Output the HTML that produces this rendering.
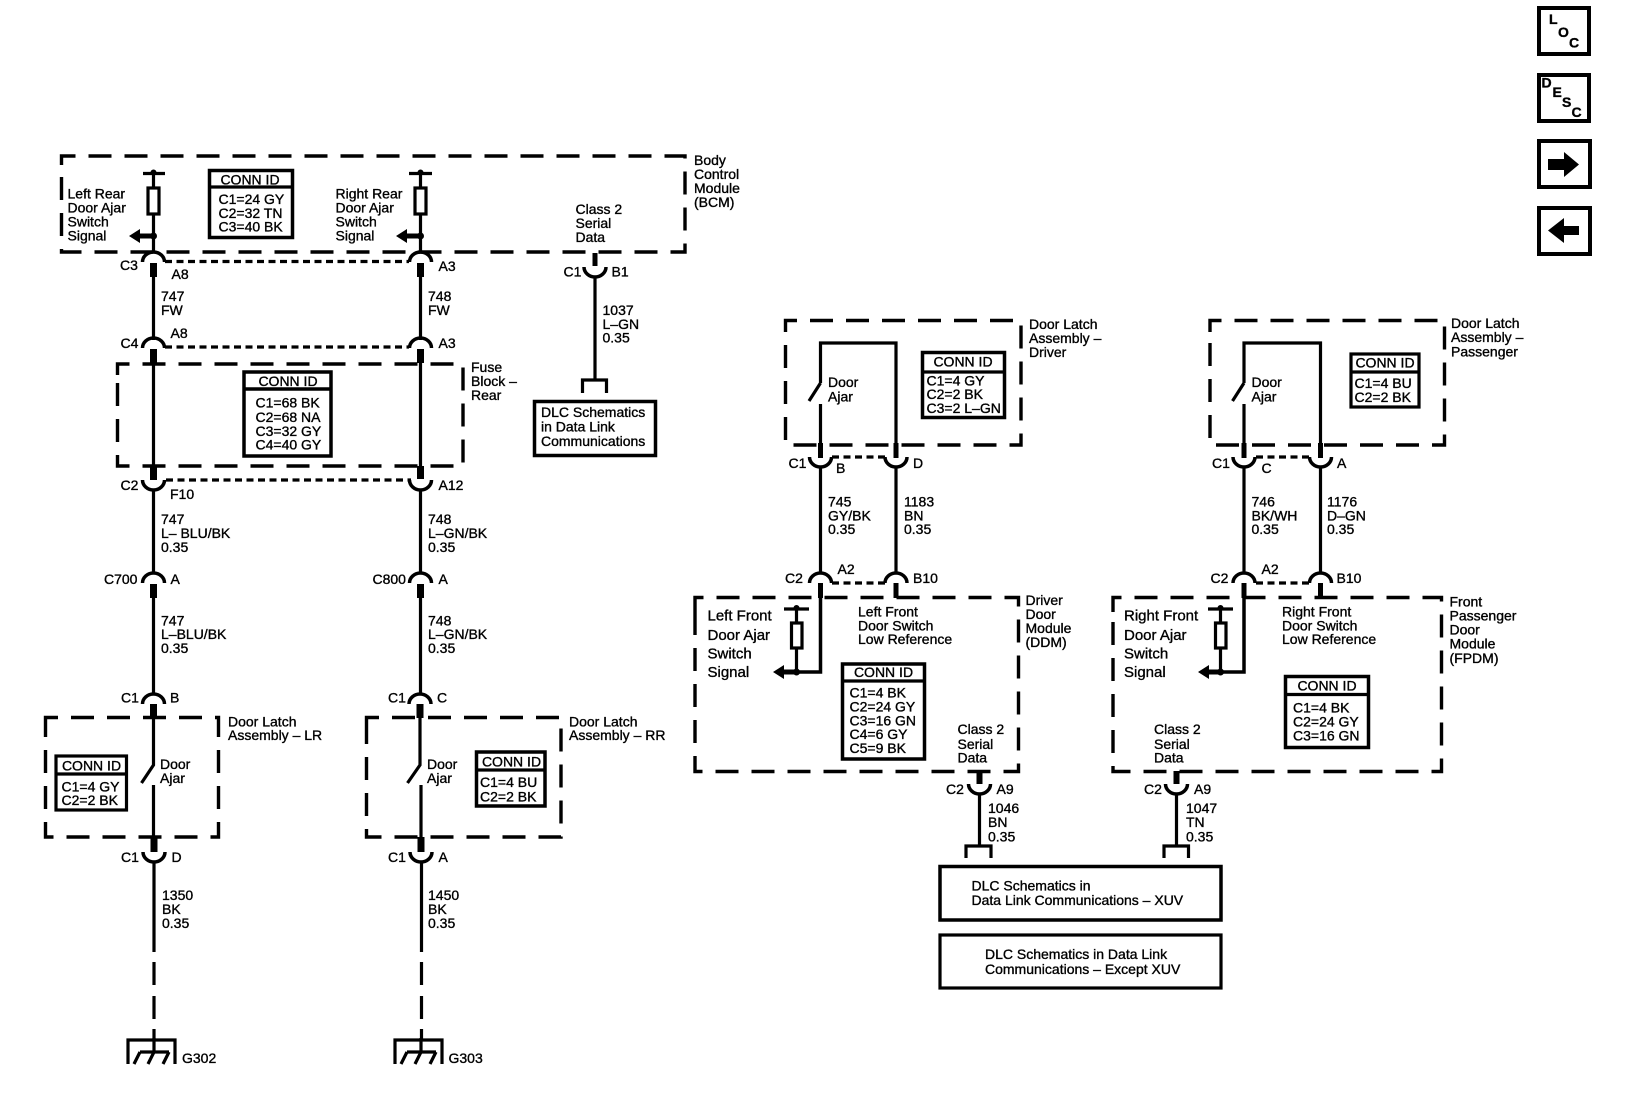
<!DOCTYPE html>
<html><head><meta charset="utf-8"><style>
html,body{margin:0;padding:0;background:#fff}
svg{display:block}
text{font-family:"Liberation Sans",Arial,sans-serif;font-size:14px;fill:#000;stroke:#000;stroke-width:.35}
.c{text-anchor:middle}
.l{font-size:15px}
.b{fill:none;stroke:#000;stroke-width:3.4;stroke-dasharray:23 13}
.r{fill:#fff;stroke:#000;stroke-width:3.5}
.w{fill:none;stroke:#000;stroke-width:3.2}
.s{fill:none;stroke:#000;stroke-width:7}
.d{fill:none;stroke:#000;stroke-width:3.2;stroke-dasharray:7 4.5}
.i text{font-weight:bold;font-size:14px}
</style></head><body>
<svg width="1632" height="1094" viewBox="0 0 1632 1094" xmlns="http://www.w3.org/2000/svg">
<defs>
<path id="n" d="M-11 10A11 10 0 0 1 11 10" fill="none" stroke="#000" stroke-width="3.5"/>
<path id="u" d="M-11 0A11 10 0 0 0 11 0" fill="none" stroke="#000" stroke-width="3.5"/>
<g id="gnd" fill="none" stroke="#000" stroke-width="3.2">
<path d="M-24 24V0H23V24"/><path d="M2 -2V12"/><path d="M-12 12H17"/><path d="M-12 12L-18 24M2 12L-4 24M17 12L11 24"/>
</g>
<path id="arl" d="M0 0L11 -7V-2.500H24V2.500H11V7Z" fill="#000"/>
</defs>

<!-- nav icons -->
<g class="i">
<rect x="1539" y="8" width="50" height="46" fill="#fff" stroke="#000" stroke-width="4"/>
<text x="1549" y="24">L</text><text x="1558" y="37">O</text><text x="1569" y="47.500">C</text>
<rect x="1539" y="75" width="50" height="46" fill="#fff" stroke="#000" stroke-width="4"/>
<text x="1541.500" y="87.500">D</text><text x="1552.500" y="97">E</text><text x="1562" y="107">S</text><text x="1571.500" y="117">C</text>
<rect x="1539" y="141" width="51" height="46" fill="#fff" stroke="#000" stroke-width="4"/>
<path d="M1548 159H1564V152L1579 164.500L1564 177V170H1548Z" fill="#000"/>
<rect x="1539" y="208" width="51" height="46" fill="#fff" stroke="#000" stroke-width="4"/>
<path d="M1579 226H1564V218L1548 230.500L1564 243V235H1579Z" fill="#000"/>
</g>

<!-- BCM -->
<path class="b" d="M61.500 165V156H685V252H61.500V165"/>
<path class="w" d="M143 173.500H165M153.500 173.500V252M420.500 173.500V252M409 173.500H432"/>
<circle cx="153.500" cy="172.500" r="3"/><circle cx="420.500" cy="172.500" r="3"/>
<rect x="148" y="188" width="11" height="26" class="r" style="stroke-width:3.2"/>
<rect x="415" y="188" width="11" height="26" class="r" style="stroke-width:3.2"/>
<use href="#arl" x="129" y="236"/><path class="w" d="M140 236H153"/><circle cx="153.500" cy="236" r="3.500"/>
<use href="#arl" x="396" y="236"/><path class="w" d="M407 236H420"/><circle cx="420.500" cy="236" r="3.500"/>
<rect x="209.500" y="170.500" width="83" height="67" class="r"/><path class="w" d="M209 187H293"/>
<text class="c" x="250" y="184.500">CONN ID</text>
<text x="218.500" y="204">C1=24 GY</text><text x="218.500" y="218">C2=32 TN</text><text x="218.500" y="231.700">C3=40 BK</text>
<text x="67.500" y="198.500">Left Rear</text><text x="67.500" y="212.500">Door Ajar</text><text x="67.500" y="226.500">Switch</text><text x="67.500" y="240.500">Signal</text>
<text x="335.500" y="198.500">Right Rear</text><text x="335.500" y="212.500">Door Ajar</text><text x="335.500" y="226.500">Switch</text><text x="335.500" y="240.500">Signal</text>
<text x="694" y="165">Body</text><text x="694" y="179">Control</text><text x="694" y="193">Module</text><text x="694" y="207">(BCM)</text>
<text x="575.500" y="214">Class 2</text><text x="575.500" y="228">Serial</text><text x="575.500" y="242">Data</text>

<!-- Class 2 branch -->
<path class="s" d="M595 253V266" style="stroke-width:5"/>
<use href="#u" x="595" y="267"/>
<path class="w" d="M595 277V379M582.500 393V380H606.500V393"/>
<rect x="534.500" y="401.500" width="121" height="54" class="r"/>
<text x="541" y="417">DLC Schematics</text><text x="541" y="431.500">in Data Link</text><text x="541" y="446">Communications</text>
<text x="563.500" y="276.500">C1</text><text x="611.500" y="276.500">B1</text>
<text x="602.500" y="315">1037</text><text x="602.500" y="329">L–GN</text><text x="602.500" y="342.500">0.35</text>

<!-- C3 row -->
<use href="#n" x="153.500" y="252"/><use href="#n" x="420.500" y="252"/>
<path class="d" d="M165 261.500H409"/>
<path class="s" d="M153.500 263V277M420.500 263V277" />
<path class="w" d="M153.500 277V340M420.500 277V340"/>
<text x="120" y="270">C3</text><text x="171.500" y="279">A8</text><text x="438.500" y="271">A3</text>
<text x="161" y="301">747</text><text x="161" y="315">FW</text><text x="428" y="301">748</text><text x="428" y="315">FW</text>

<!-- C4 row -->
<use href="#n" x="153.500" y="338"/><use href="#n" x="420.500" y="338"/>
<path class="d" d="M165 347H409"/>
<path class="s" d="M153.500 349V363M420.500 349V363"/>
<text x="120.500" y="348">C4</text><text x="170.500" y="338">A8</text><text x="438.500" y="348">A3</text>

<!-- Fuse block -->
<path class="b" d="M117.500 375V364H463V466H117.500V375"/>
<path class="w" d="M153.500 363V466M420.500 363V466"/>
<rect x="244" y="372" width="87" height="84" class="r"/><path class="w" d="M243 389H332" style="stroke-width:3.500"/>
<text class="c" x="288" y="386">CONN ID</text>
<text x="255.500" y="407.500">C1=68 BK</text><text x="255.500" y="422">C2=68 NA</text><text x="255.500" y="436">C3=32 GY</text><text x="255.500" y="449.500">C4=40 GY</text>
<text x="471" y="372">Fuse</text><text x="471" y="386">Block –</text><text x="471" y="400">Rear</text>

<!-- C2 row -->
<path class="s" d="M153.500 466V480M420.500 466V479"/>
<use href="#u" x="153.500" y="480"/><use href="#u" x="420.500" y="480"/>
<path class="d" d="M166 480H411"/>
<path class="w" d="M153.500 490V574M420.500 490V574"/>
<text x="120.500" y="490">C2</text><text x="170" y="499">F10</text><text x="438.500" y="490">A12</text>
<text x="161" y="524">747</text><text x="161" y="538">L– BLU/BK</text><text x="161" y="552">0.35</text>
<text x="428" y="524">748</text><text x="428" y="538">L–GN/BK</text><text x="428" y="552">0.35</text>

<!-- C700 / C800 -->
<use href="#n" x="153.500" y="573"/><use href="#n" x="420.500" y="573"/>
<path class="s" d="M153.500 584V598M420.500 584V598"/>
<path class="w" d="M153.500 598V695M420.500 598V695"/>
<text x="104" y="584">C700</text><text x="170.500" y="584">A</text>
<text x="372.500" y="584">C800</text><text x="438.500" y="584">A</text>
<text x="161" y="625.500">747</text><text x="161" y="639">L–BLU/BK</text><text x="161" y="653">0.35</text>
<text x="428" y="625.500">748</text><text x="428" y="639">L–GN/BK</text><text x="428" y="653">0.35</text>

<!-- Door latch LR/RR -->
<use href="#n" x="153.500" y="694"/><use href="#n" x="420" y="694"/>
<path class="s" d="M153.500 704V718M420 704V718"/>
<text x="121" y="702.500">C1</text><text x="170" y="702.500">B</text>
<text x="388" y="702.500">C1</text><text x="437" y="702.500">C</text>
<path class="b" d="M45.500 728V717.500H218.500V837H45.500V728"/>
<path class="b" d="M366.500 728V717.500H561V837H366.500V728"/>
<path class="w" d="M153.500 717V765L141.500 783M153.500 785V838M420 717V765L407.500 783M421 785V838"/>
<text x="160" y="769">Door</text><text x="160" y="783">Ajar</text>
<text x="427" y="769">Door</text><text x="427" y="783">Ajar</text>
<text x="228" y="726.500">Door Latch</text><text x="228" y="740">Assembly – LR</text>
<text x="569" y="726.500">Door Latch</text><text x="569" y="740">Assembly – RR</text>
<rect x="56" y="756" width="70.500" height="54" class="r" style="stroke-width:3.200"/><path class="w" d="M55 774H127"/>
<text class="c" x="91.500" y="770.500">CONN ID</text><text x="61.500" y="791.500">C1=4 GY</text><text x="61.500" y="805">C2=2 BK</text>
<rect x="476.500" y="752" width="68.500" height="54" class="r"/><path class="w" d="M475 770H546"/>
<text class="c" x="511.500" y="766.500">CONN ID</text><text x="480" y="787">C1=4 BU</text><text x="480" y="801.500">C2=2 BK</text>

<!-- C1 lower -->
<path class="s" d="M154 837V852M421 837V852"/>
<use href="#u" x="154" y="852"/><use href="#u" x="421" y="852"/>
<path class="w" d="M154 862V952M421.500 862V952"/>
<text x="121" y="862">C1</text><text x="171.500" y="862">D</text>
<text x="388" y="862">C1</text><text x="438.500" y="862">A</text>
<text x="162" y="900">1350</text><text x="162" y="914">BK</text><text x="162" y="928">0.35</text>
<text x="428" y="900">1450</text><text x="428" y="914">BK</text><text x="428" y="928">0.35</text>
<path class="w" d="M154 962V985M154 996V1019M154 1029V1040M421.500 962V985M421.500 996V1019M421.500 1029V1040"/>
<use href="#gnd" x="152" y="1040"/><use href="#gnd" x="419" y="1040"/>
<text x="182" y="1063">G302</text><text x="448.500" y="1063">G303</text>

<!-- Door latch driver -->
<path class="b" d="M785.500 332V320.500H1021V445H785.500V332"/>
<path class="w" d="M820.500 383V343H896V445M820.500 383L809 401M820.500 404V445"/>
<text x="828" y="387">Door</text><text x="828" y="401.500">Ajar</text>
<text x="1029" y="329">Door Latch</text><text x="1029" y="343">Assembly –</text><text x="1029" y="357">Driver</text>
<rect x="922.500" y="352.500" width="82" height="65" class="r"/><path class="w" d="M922 372H1006"/>
<text class="c" x="963" y="366.500">CONN ID</text><text x="926.500" y="385.500">C1=4 GY</text><text x="926.500" y="399">C2=2 BK</text><text x="926.500" y="413">C3=2 L–GN</text>
<path class="s" d="M820.500 443V458M896 443V458" style="stroke-width:5"/>
<use href="#u" x="820.500" y="457"/><use href="#u" x="896" y="457"/>
<path class="d" d="M832 457H885"/>
<path class="w" d="M820.500 467V574M896 467V574"/>
<text x="788.500" y="468">C1</text><text x="836" y="473">B</text><text x="913" y="468">D</text>
<text x="828" y="506.500">745</text><text x="828" y="520.500">GY/BK</text><text x="828" y="534">0.35</text>
<text x="904" y="506.500">1183</text><text x="904" y="520.500">BN</text><text x="904" y="534">0.35</text>
<use href="#n" x="820.500" y="573"/><use href="#n" x="896" y="573"/>
<path class="d" d="M832 583H885"/>
<path class="s" d="M820.500 583V598M896 583V598" style="stroke-width:5"/>
<text x="785" y="583">C2</text><text x="837.500" y="574">A2</text><text x="913" y="583">B10</text>

<!-- DDM -->
<path class="b" d="M695 612V597.500H1018.500V771.500H695V612"/>
<path class="w" d="M784 609H809M796.500 609V672"/>
<circle cx="796.500" cy="608" r="3"/>
<rect x="791.500" y="623" width="10.500" height="25" class="r" style="stroke-width:3.200"/>
<use href="#arl" x="773" y="672"/><path d="M784 672H820.500V597" fill="none" stroke="#000" stroke-width="3.500"/><circle cx="796.500" cy="672" r="3.500"/>
<text class="l" x="707.500" y="620.500">Left Front</text><text class="l" x="707.500" y="640">Door Ajar</text><text class="l" x="707.500" y="658.500">Switch</text><text class="l" x="707.500" y="677">Signal</text>
<text x="858" y="616.500">Left Front</text><text x="858" y="630.500">Door Switch</text><text x="858" y="644">Low Reference</text>
<text x="1025.500" y="605">Driver</text><text x="1025.500" y="619">Door</text><text x="1025.500" y="633">Module</text><text x="1025.500" y="647">(DDM)</text>
<rect x="842.500" y="664" width="82" height="95" class="r"/><path class="w" d="M842 681H925"/>
<text class="c" x="883.500" y="677">CONN ID</text><text x="849.500" y="697.500">C1=4 BK</text><text x="849.500" y="711.500">C2=24 GY</text><text x="849.500" y="725.500">C3=16 GN</text><text x="849.500" y="739">C4=6 GY</text><text x="849.500" y="753">C5=9 BK</text>
<text x="957.500" y="734">Class 2</text><text x="957.500" y="749">Serial</text><text x="957.500" y="762.500">Data</text>

<!-- Door latch passenger -->
<path class="b" d="M1210 332V320.500H1444.500V445H1210V332"/>
<path class="w" d="M1244 383V343H1320.500V445M1244 383L1232.500 401M1244 404V445"/>
<text x="1251.500" y="387">Door</text><text x="1251.500" y="401.500">Ajar</text>
<text x="1451" y="328">Door Latch</text><text x="1451" y="342">Assembly –</text><text x="1451" y="356.500">Passenger</text>
<rect x="1351" y="354" width="68" height="53" class="r" style="stroke-width:3.200"/><path class="w" d="M1350 372H1420"/>
<text class="c" x="1385" y="367.500">CONN ID</text><text x="1354.500" y="388">C1=4 BU</text><text x="1354.500" y="402">C2=2 BK</text>
<path class="s" d="M1244 443V458M1320.500 443V458" style="stroke-width:5"/>
<use href="#u" x="1244" y="457"/><use href="#u" x="1320.500" y="457"/>
<path class="d" d="M1256 457H1309"/>
<path class="w" d="M1244 467V574M1320.500 467V574"/>
<text x="1212" y="468">C1</text><text x="1261.500" y="473">C</text><text x="1337" y="468">A</text>
<text x="1251.500" y="506.500">746</text><text x="1251.500" y="520.500">BK/WH</text><text x="1251.500" y="534">0.35</text>
<text x="1327" y="506.500">1176</text><text x="1327" y="520.500">D–GN</text><text x="1327" y="534">0.35</text>
<use href="#n" x="1244" y="573"/><use href="#n" x="1320.500" y="573"/>
<path class="d" d="M1256 583H1309"/>
<path class="s" d="M1244 583V598M1320.500 583V598" style="stroke-width:5"/>
<text x="1210.500" y="583">C2</text><text x="1261.500" y="574">A2</text><text x="1336.500" y="583">B10</text>

<!-- FPDM -->
<path class="b" d="M1113 612V597.500H1441.500V771.500H1113V612"/>
<path class="w" d="M1208 609H1233M1220.500 609V672"/>
<circle cx="1220.500" cy="608" r="3"/>
<rect x="1215.500" y="623" width="10.500" height="25" class="r" style="stroke-width:3.200"/>
<use href="#arl" x="1198" y="672"/><path d="M1209 672H1244V597" fill="none" stroke="#000" stroke-width="3.500"/><circle cx="1220.500" cy="672" r="3.500"/>
<text class="l" x="1124" y="620.500">Right Front</text><text class="l" x="1124" y="640">Door Ajar</text><text class="l" x="1124" y="658.500">Switch</text><text class="l" x="1124" y="677">Signal</text>
<text x="1282" y="616.500">Right Front</text><text x="1282" y="630.500">Door Switch</text><text x="1282" y="644">Low Reference</text>
<text x="1449.500" y="606.500">Front</text><text x="1449.500" y="620.500">Passenger</text><text x="1449.500" y="634.500">Door</text><text x="1449.500" y="648.500">Module</text><text x="1449.500" y="663">(FPDM)</text>
<rect x="1285.500" y="676.500" width="83" height="71" class="r"/><path class="w" d="M1284 694.500H1370"/>
<text class="c" x="1327" y="690.500">CONN ID</text><text x="1293" y="712.500">C1=4 BK</text><text x="1293" y="726.500">C2=24 GY</text><text x="1293" y="740.500">C3=16 GN</text>
<text x="1154" y="734">Class 2</text><text x="1154" y="749">Serial</text><text x="1154" y="762.500">Data</text>

<!-- bottom connectors -->
<path class="s" d="M979.500 771V784M1176.500 771V784" style="stroke-width:6"/>
<use href="#u" x="979.500" y="784"/><use href="#u" x="1176.500" y="784"/>
<path class="w" d="M979.500 794V845M1176.500 794V845M966 858V846H991V858M1164 858V846H1188.500V858"/>
<text x="946" y="794">C2</text><text x="996.500" y="794">A9</text><text x="1144" y="794">C2</text><text x="1194" y="794">A9</text>
<text x="988" y="813">1046</text><text x="988" y="827">BN</text><text x="988" y="841.500">0.35</text>
<text x="1186" y="813">1047</text><text x="1186" y="827">TN</text><text x="1186" y="841.500">0.35</text>
<rect x="940" y="866.500" width="281" height="53.500" class="r"/>
<text x="971.500" y="890.500">DLC Schematics in</text><text x="971.500" y="905">Data Link Communications – XUV</text>
<rect x="940" y="935" width="281" height="53" class="r" style="stroke-width:3.200"/>
<text x="985" y="959">DLC Schematics in Data Link</text><text x="985" y="974">Communications – Except XUV</text>
</svg>
</body></html>
